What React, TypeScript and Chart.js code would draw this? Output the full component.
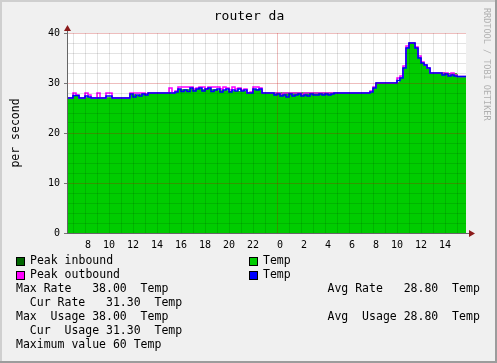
import React, { useEffect, useRef } from 'react';
import { Chart, registerables } from 'chart.js';

Chart.register(...registerables);

const TITLE = 'router da';
const Y_LABEL = 'per second';
const WATERMARK = 'RRDTOOL / TOBI OETIKER';
const START_HOUR = 6.5;
const END_HOUR = 39.75;
const STEP_HOURS = 0.25;
const X_TICK_HOURS = [7, 8, 9, 10, 11, 12, 13, 14, 15, 16, 17, 18, 19, 20, 21, 22, 23, 24, 25, 26, 27, 28, 29, 30, 31, 32, 33, 34, 35, 36, 37, 38, 39];
const Y_TICKS = [0, 2, 4, 6, 8, 10, 12, 14, 16, 18, 20, 22, 24, 26, 28, 30, 32, 34, 36, 38, 40];

const peakInbound = [
  27, 27, 27.5, 27.5, 27, 27, 27, 27, 27, 27,
  27, 27, 27, 27, 27, 27, 27, 27, 27, 27,
  27, 27.6, 27.6, 27.4, 27.6, 27.8, 27.8, 28, 28, 28,
  28, 28, 28, 28, 28, 28, 28.3, 28.6, 28.6, 28.7,
  28.6, 28.8, 28.6, 28.6, 28.8, 28.6, 28.6, 28.8, 28.6, 28.6,
  28.4, 28.4, 28.4, 28.4, 28.3, 28.3, 28.3, 28.3, 28.3, 28.3,
  28.1, 28.1, 28.6, 28.6, 28.6, 28, 28, 28, 28, 28,
  28, 28, 28, 28, 28, 28, 28, 28, 28, 28,
  28, 28, 28, 28, 28, 28, 28, 28, 28, 28,
  28, 28, 28, 28, 28, 28, 28, 28, 28, 28,
  28, 28, 29, 30, 30, 30, 30, 30, 30, 30,
  30, 31, 33, 37, 38, 38, 37, 35, 34, 33.6,
  33, 32, 32, 32, 32, 32, 31.8, 31.8, 31.8, 31.8,
  31.3, 31.3, 31.3, 31.3,
];

const inbound = [
  27, 27, 27.5, 27.5, 27, 27, 27, 27, 27, 27,
  27, 27, 27, 27, 27, 27, 27, 27, 27, 27,
  27, 27.6, 27.6, 27.4, 27.6, 27.8, 27.8, 28, 28, 28,
  28, 28, 28, 28, 28, 28, 28.3, 28.6, 28.6, 28.7,
  28.6, 28.8, 28.6, 28.6, 28.8, 28.6, 28.6, 28.8, 28.6, 28.6,
  28.4, 28.4, 28.4, 28.4, 28.3, 28.3, 28.3, 28.3, 28.3, 28.3,
  28.1, 28.1, 28.6, 28.6, 28.6, 28, 28, 28, 28, 28,
  28, 28, 28, 28, 28, 28, 28, 28, 28, 28,
  28, 28, 28, 28, 28, 28, 28, 28, 28, 28,
  28, 28, 28, 28, 28, 28, 28, 28, 28, 28,
  28, 28, 29, 30, 30, 30, 30, 30, 30, 30,
  30, 31, 33, 37, 38, 38, 37, 35, 34, 33.6,
  33, 32, 32, 32, 32, 32, 31.8, 31.8, 31.8, 31.8,
  31.3, 31.3, 31.3, 31.3,
];

const peakOutbound = [
  27, 27, 28, 27.6, 27, 27, 28, 27.6, 27, 27,
  28, 27, 27, 28, 28, 27, 27, 27, 27, 27,
  27, 28, 28, 28, 28, 28, 27.8, 28, 28, 28,
  28, 28, 28, 28, 29, 28, 28.4, 29.2, 29.2, 29.2,
  29.2, 29.2, 28.8, 29, 29.2, 29.2, 28.8, 29.2, 29.2, 29.2,
  29.2, 28.8, 29.2, 29, 28.6, 29.2, 28.8, 29, 28.6, 28.8,
  28, 28.2, 29.2, 29.2, 29, 28, 28, 28, 28, 28,
  28, 27.8, 28, 28, 28, 28, 28, 28, 27.8, 28,
  28, 28, 28, 28, 28, 28, 28, 28, 28, 28,
  28, 28, 28, 28, 28, 28, 28, 28, 28, 28,
  28, 28.4, 29.2, 30, 30, 30, 30, 30, 30, 30,
  31, 31.4, 33.4, 37.4, 38, 38, 37.2, 35.4, 34.2, 33.6,
  33, 32, 32, 32, 32, 32, 32, 31.6, 32, 31.6,
  31.3, 31.3, 31.3, 31.3,
];

const outbound = [
  27, 27, 27.5, 27.5, 27, 27, 27.4, 27.2, 27, 27,
  27, 27, 27, 27.4, 27.4, 27, 27, 27, 27, 27,
  27, 27.8, 27.2, 27.6, 27.4, 27.8, 27.6, 28, 28, 28,
  28, 28, 28, 28, 28, 28, 28.2, 28.8, 28.3, 28.6,
  28.3, 29, 28.4, 28.8, 29, 28.4, 28.8, 29, 28.3, 28.6,
  28.8, 28.2, 28.6, 28.8, 28.2, 28.6, 28.4, 28.8, 28.4, 28.6,
  28, 28, 28.8, 28.6, 28.8, 28, 28, 28, 28, 27.6,
  27.8, 27.4, 27.6, 27.2, 27.8, 27.4, 27.6, 27.8, 27.4, 27.6,
  27.4, 27.8, 27.6, 27.6, 27.8, 27.6, 27.8, 27.6, 27.8, 28,
  28, 28, 28, 28, 28, 28, 28, 28, 28, 28,
  28, 28.2, 29, 30, 30, 30, 30, 30, 30, 30,
  30.5, 31, 33, 37, 38, 38, 37, 35, 34, 33.6,
  33, 32, 32, 32, 32, 31.6, 31.8, 31.4, 31.6, 31.4,
  31.3, 31.3, 31.3, 31.3,
];

const LEGEND_LABELS = ['Peak inbound', 'Temp', 'Peak outbound', 'Temp'];
const LEGEND_COLORS = ['#006600', '#00cc00', '#ff00ff', '#0000ff'];
const STAT_LEFT = [
  'Max Rate   38.00  Temp',
  '  Cur Rate   31.30  Temp',
  'Max  Usage 38.00  Temp',
  '  Cur  Usage 31.30  Temp',
  'Maximum value 60 Temp',
];
const STAT_RIGHT = ['Avg Rate   28.80  Temp', '', 'Avg  Usage 28.80  Temp', '', ''];

const MONO = "'DejaVu Sans Mono', monospace";

const toPoints = (arr: number[]) => arr.map((v, i) => ({ x: START_HOUR + i * STEP_HOURS, y: v }));

const rrdPlugin = {
  id: 'rrdDecor',
  beforeDraw(chart: any) {
    const { ctx, width, height, chartArea: a } = chart;
    ctx.save();
    ctx.fillStyle = '#f0f0f0';
    ctx.fillRect(0, 0, width, height);
    ctx.fillStyle = '#ffffff';
    ctx.fillRect(a.left, a.top, a.right - a.left, a.bottom - a.top);
    ctx.restore();
  },
  afterDraw(chart: any) {
    const { ctx, width, height, chartArea: a } = chart;
    ctx.save();
    ctx.fillStyle = '#cfcfcf';
    ctx.fillRect(0, 0, width, 2);
    ctx.fillRect(0, 0, 2, height);
    ctx.fillStyle = '#9c9c9c';
    ctx.fillRect(width - 2, 0, 2, height);
    ctx.fillRect(0, height - 2, width, 2);

    ctx.strokeStyle = '#666';
    ctx.lineWidth = 1;
    ctx.beginPath();
    ctx.moveTo(a.left + 0.5, a.top);
    ctx.lineTo(a.left + 0.5, a.top - 4);
    ctx.moveTo(a.right, a.bottom + 0.5);
    ctx.lineTo(a.right + 4, a.bottom + 0.5);
    ctx.stroke();
    ctx.fillStyle = '#8b1a1a';
    ctx.beginPath();
    ctx.moveTo(a.left + 0.5, a.top - 8);
    ctx.lineTo(a.left - 3, a.top - 2);
    ctx.lineTo(a.left + 4, a.top - 2);
    ctx.closePath();
    ctx.fill();
    ctx.beginPath();
    ctx.moveTo(a.right + 9, a.bottom + 0.5);
    ctx.lineTo(a.right + 3, a.bottom - 3);
    ctx.lineTo(a.right + 3, a.bottom + 4);
    ctx.closePath();
    ctx.fill();

    ctx.fillStyle = '#000';
    ctx.font = `13px ${MONO}`;
    ctx.textAlign = 'center';
    ctx.textBaseline = 'middle';
    ctx.fillText(TITLE, 249, 16.5);

    ctx.save();
    ctx.translate(16, (a.top + a.bottom) / 2);
    ctx.rotate(-Math.PI / 2);
    ctx.font = `11.5px ${MONO}`;
    ctx.fillText(Y_LABEL, 0, 0);
    ctx.restore();

    ctx.save();
    ctx.translate(486, 8);
    ctx.rotate(Math.PI / 2);
    ctx.font = `8.5px ${MONO}`;
    ctx.fillStyle = '#b0b0b0';
    ctx.textAlign = 'left';
    ctx.textBaseline = 'middle';
    ctx.fillText(WATERMARK, 0, 0);
    ctx.restore();

    ctx.font = `11.5px ${MONO}`;
    ctx.textAlign = 'left';
    ctx.textBaseline = 'middle';
    const rows = [261.5, 275.5];
    const cols = [16, 249];
    LEGEND_LABELS.forEach((lab, k) => {
      const r = Math.floor(k / 2);
      const c = k % 2;
      const bx = cols[c];
      const by = rows[r];
      ctx.fillStyle = LEGEND_COLORS[k];
      ctx.fillRect(bx + 0.5, by - 4, 8, 8);
      ctx.strokeStyle = '#000';
      ctx.lineWidth = 1;
      ctx.strokeRect(bx + 0.5, by - 4, 8, 8);
      ctx.fillStyle = '#000';
      ctx.fillText(lab, bx + 14, by);
    });
    STAT_LEFT.forEach((t, k) => {
      const y = 289.5 + k * 14;
      ctx.fillText(t, 16, y);
      if (STAT_RIGHT[k]) ctx.fillText(STAT_RIGHT[k], 327.5, y);
    });
    ctx.restore();
  },
};

export default function App() {
  const ref = useRef<HTMLCanvasElement | null>(null);
  useEffect(() => {
    document.body.style.margin = '0';
    if (!ref.current) return;
    const common = { pointRadius: 0, tension: 0, stepped: 'before' as const };
    const chart = new Chart(ref.current, {
      type: 'line',
      data: {
        datasets: [
          { ...common, label: LEGEND_LABELS[3], data: toPoints(outbound), borderColor: '#0000ff', borderWidth: 1.6, fill: false },
          { ...common, label: LEGEND_LABELS[2], data: toPoints(peakOutbound), borderColor: '#ff00ff', borderWidth: 1.6, fill: false },
          { ...common, label: LEGEND_LABELS[1], data: toPoints(inbound), borderColor: '#00cc00', borderWidth: 1, backgroundColor: '#00cc00', fill: 'origin' },
          { ...common, label: LEGEND_LABELS[0], data: toPoints(peakInbound), borderColor: '#006600', borderWidth: 1, backgroundColor: '#006600', fill: 'origin' },
        ],
      },
      options: {
        animation: false,
        responsive: false,
        devicePixelRatio: 1,
        layout: { padding: { left: 0, top: 33, right: 31, bottom: 110 } },
        plugins: { legend: { display: false }, title: { display: false }, tooltip: { enabled: false } },
        scales: {
          x: {
            type: 'linear',
            min: START_HOUR,
            max: END_HOUR,
            afterBuildTicks: (s: any) => { s.ticks = X_TICK_HOURS.map((v) => ({ value: v })); },
            afterFit: (s: any) => { s.height = 20; },
            ticks: {
              autoSkip: false,
              maxRotation: 0,
              padding: 6,
              color: '#000',
              font: { family: MONO, size: 10 },
              callback: (v: any) => (Number(v) % 2 === 0 ? String(Number(v) % 24).padStart(2, ' ') : ''),
            },
            grid: {
              z: 1,
              drawTicks: false,
              color: (c: any) => (c.tick && c.tick.value % 24 === 0 ? 'rgba(190,0,0,0.26)' : 'rgba(0,0,0,0.11)'),
            },
            border: { z: 2, color: '#666', width: 1 },
          },
          y: {
            min: 0,
            max: 40,
            afterBuildTicks: (s: any) => { s.ticks = Y_TICKS.map((v) => ({ value: v })); },
            afterFit: (s: any) => { s.width = 67; },
            ticks: {
              autoSkip: false,
              padding: 4,
              color: '#000',
              font: { family: MONO, size: 10 },
              callback: (v: any) => (Number(v) % 10 === 0 ? String(v) : ''),
            },
            grid: {
              z: 1,
              tickLength: 3,
              color: (c: any) => (c.tick && c.tick.value % 10 === 0 ? 'rgba(190,0,0,0.26)' : 'rgba(0,0,0,0.11)'),
              tickColor: (c: any) => (c.tick && c.tick.value % 10 === 0 ? '#777' : 'rgba(0,0,0,0)'),
            },
            border: { z: 2, color: '#666', width: 1 },
          },
        },
      },
      plugins: [rrdPlugin],
    } as any);
    return () => chart.destroy();
  }, []);
  return (
    <div style={{ width: 497, height: 363 }}>
      <canvas ref={ref} width={497} height={363} style={{ display: 'block' }} />
    </div>
  );
}
